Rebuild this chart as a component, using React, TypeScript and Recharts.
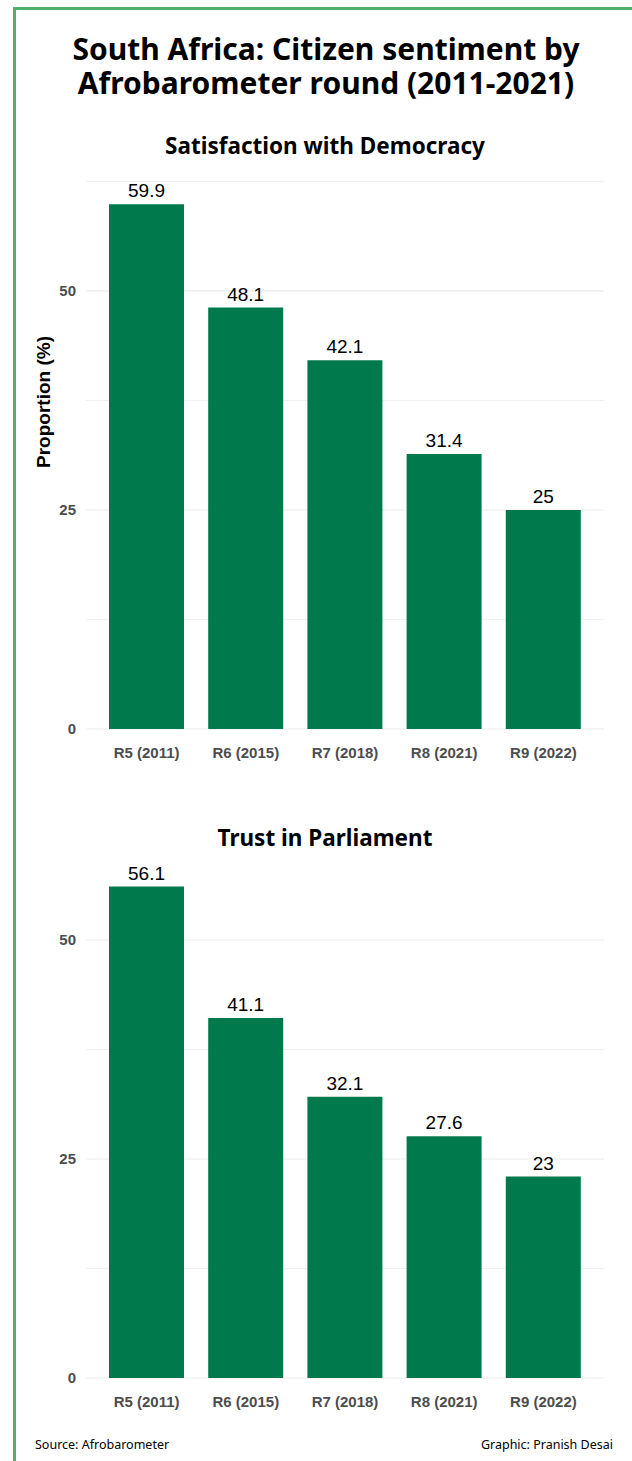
import { BarChart, Bar, XAxis, YAxis, CartesianGrid, LabelList } from 'recharts'

const rounds = ['R5 (2011)', 'R6 (2015)', 'R7 (2018)', 'R8 (2021)', 'R9 (2022)']
const satisfaction = [59.9, 48.1, 42.1, 31.4, 25]
const trust = [56.1, 41.1, 32.1, 27.6, 23]
const majorTicks = [0, 25, 50]
const gridTicks = [0, 12.5, 25, 37.5, 50, 62.5]

const GREEN = '#007a4d'
const HEAD = '"Noto Sans", Lato, sans-serif'
const ARIAL = '"Liberation Sans", Arial, sans-serif'
const M_TOP = 28
const X_H = 40

const toRows = (values: number[]) => rounds.map((name, i) => ({ name, value: values[i] }))

const Panel = ({ values, top, height }: { values: number[]; top: number; height: number }) => {
  const top5 = Math.max(...values) * 1.05
  const ticks = gridTicks.filter((t) => t <= top5)
  const plotH = height - X_H - M_TOP

  // only the tick positions, no extra lines on the plot edges
  const gridCoords = ({ yAxis }: any) =>
    ticks.map((t) => (yAxis && typeof yAxis.scale === 'function' ? yAxis.scale(t) : M_TOP + plotH * (1 - t / top5)))

  const gridLine = (p: any) => (
    <line
      key={p.key}
      x1={p.x1}
      y1={p.y1}
      x2={p.x2}
      y2={p.y2}
      stroke="#ebebeb"
      strokeWidth={majorTicks.includes(ticks[p.index]) ? 1.2 : 0.7}
    />
  )

  return (
    <div style={{ position: 'absolute', left: 0, top }}>
      <BarChart
        width={632}
        height={height}
        data={toRows(values)}
        margin={{ top: M_TOP, right: 28, bottom: 0, left: 0 }}
      >
        <CartesianGrid vertical={false} horizontal={gridLine} horizontalCoordinatesGenerator={gridCoords} />
        <XAxis
          dataKey="name"
          axisLine={false}
          tickLine={false}
          tickSize={0}
          tickMargin={18}
          height={X_H}
          padding={{ left: 11, right: 11 }}
          tick={{ fill: '#4d4d4d', fontSize: 15, fontWeight: 700, fontFamily: ARIAL }}
        />
        <YAxis
          width={86}
          domain={[0, (max: number) => max * 1.05]}
          ticks={ticks}
          interval={0}
          tickFormatter={(v: number) => (majorTicks.includes(v) ? String(v) : '')}
          axisLine={false}
          tickLine={false}
          tickSize={0}
          tickMargin={10}
          tick={{ fill: '#4d4d4d', fontSize: 15, fontWeight: 700, fontFamily: ARIAL }}
        />
        <Bar dataKey="value" fill={GREEN} barSize={75} isAnimationActive={false}>
          <LabelList dataKey="value" position="top" offset={7} fill="#000" fontSize={19} fontFamily={ARIAL} />
        </Bar>
      </BarChart>
    </div>
  )
}

export default function App() {
  return (
    <div style={{ position: 'absolute', left: 0, top: 0, width: 632, height: 1461, background: '#fff', overflow: 'hidden' }}>
      <div
        style={{
          position: 'absolute',
          left: 13,
          top: 7,
          width: 640,
          height: 1470,
          borderLeft: '3px solid #52b06d',
          borderTop: '3px solid #52b06d',
        }}
      />
      <div
        style={{
          position: 'absolute',
          left: 0,
          top: 32,
          width: 652,
          textAlign: 'center',
          fontFamily: HEAD,
          fontWeight: 700,
          fontSize: 30,
          lineHeight: '34px',
          color: '#000',
        }}
      >
        South Africa: Citizen sentiment by
        <br />
        Afrobarometer round (2011-2021)
      </div>
      <div style={{ position: 'absolute', left: 0, top: 130, width: 650, textAlign: 'center', fontFamily: HEAD, fontWeight: 700, fontSize: 22.5 }}>
        Satisfaction with Democracy
      </div>
      <div style={{ position: 'absolute', left: 0, top: 822, width: 650, textAlign: 'center', fontFamily: HEAD, fontWeight: 700, fontSize: 22.5 }}>
        Trust in Parliament
      </div>
      <div
        style={{
          position: 'absolute',
          left: 44,
          top: 402,
          transform: 'translate(-50%, -50%) rotate(-90deg)',
          whiteSpace: 'nowrap',
          fontFamily: ARIAL,
          fontWeight: 700,
          fontSize: 19,
          color: '#000',
        }}
      >
        Proportion (%)
      </div>

      <Panel values={satisfaction} top={150} height={619} />
      <Panel values={trust} top={834} height={584} />

      <div style={{ position: 'absolute', left: 35, top: 1436, fontFamily: HEAD, fontSize: 12.5, color: '#000' }}>
        Source: Afrobarometer
      </div>
      <div style={{ position: 'absolute', right: 19, top: 1436, fontFamily: HEAD, fontSize: 12.5, color: '#000' }}>
        Graphic: Pranish Desai
      </div>
    </div>
  )
}
